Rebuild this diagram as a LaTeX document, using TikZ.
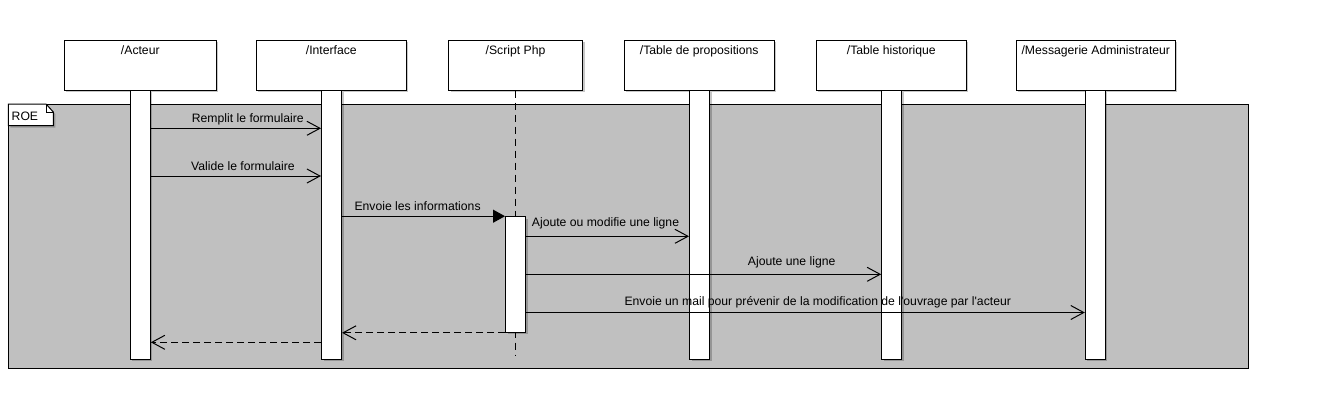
\documentclass[tikz,border=0pt]{standalone}
\usepackage{fontspec}
\setmainfont{Liberation Sans}[Ligatures=TeXOff]
\usetikzlibrary{arrows.meta,calc,shadows}
\definecolor{framegray}{HTML}{C0C0C0}
\tikzset{
  shd/.style={drop shadow={shadow xshift=2pt, shadow yshift=-2pt, opacity=0.22, fill=black}},
  hdr/.style={draw, fill=white, line width=1pt, inner sep=0pt, minimum height=50pt, shd},
  lbar/.style={draw, fill=white, line width=1pt, inner sep=0pt, minimum width=20pt, minimum height=269pt, shd},
  actbox/.style={draw, fill=white, line width=1pt, inner sep=0pt, minimum width=20pt, minimum height=115.6pt, shd},
  txt/.style={inner sep=0pt, font=\fontsize{12.2}{14}\selectfont},
  msg/.style={line width=1pt, -{Straight Barb[length=13pt,width=14pt,line width=1pt]}},
  callmsg/.style={line width=1pt, -{Triangle[length=12pt,width=13pt]}},
  retmsg/.style={line width=1pt, dash pattern=on 7pt off 4pt, -{Straight Barb[length=13pt,width=14pt,line width=1pt]}},
  lifedash/.style={line width=1pt, dash pattern=on 7pt off 5pt}
}
\begin{document}
\begin{tikzpicture}[x=1pt,y=-1pt]
\useasboundingbox (0,0) rectangle (1320,408);
% frame
\draw[line width=1pt, fill=framegray] (8.3,104) rectangle (1248.3,368.3);
\coordinate (tabA) at (8.3,104);
\filldraw[line width=1pt, fill=white, shd] (tabA) -- (46,104) -- (53.3,112) -- (53.3,125.7) -- (8.3,125.7) -- cycle;
\draw[line width=1pt] (46,104) -- (46,112) -- (53.3,112);
\node[txt, anchor=base west] (roe) at (11.5,120) {ROE};
% headers
\node[hdr, minimum width=152pt] (acteur) at (140.3,65) {};
\node[hdr, minimum width=150pt] (interface) at (331.3,65) {};
\node[hdr, minimum width=134pt] (script) at (515.5,65) {};
\node[hdr, minimum width=150pt] (prop) at (699.2,65) {};
\node[hdr, minimum width=150pt] (hist) at (891.3,65) {};
\node[hdr, minimum width=159pt] (mess) at (1095.8,65) {};
\node[txt, anchor=base] (acteurlab) at (140.3,54) {/Acteur};
\node[txt, anchor=base] (interfacelab) at (331.3,54) {/Interface};
\node[txt, anchor=base] (scriptlab) at (515.5,54) {/Script Php};
\node[txt, anchor=base] (proplab) at (699.2,54) {/Table de propositions};
\node[txt, anchor=base] (histlab) at (891.3,54) {/Table historique};
\node[txt, anchor=base] (messlab) at (1095.8,54) {/Messagerie Administrateur};
% lifelines
\node[lbar] (abar) at (140.3,224.5) {};
\node[lbar] (ibar) at (331.5,224.5) {};
\node[lbar] (pbar) at (699.5,224.5) {};
\node[lbar] (hbar) at (891.7,224.5) {};
\node[lbar] (mbar) at (1095.3,224.5) {};
\coordinate (sEnd) at (515.5,355);
\draw[lifedash] (script.south) -- (sEnd);
\node[actbox] (act) at (515.5,274.5) {};
% messages
\draw[msg] (abar.east |- 0,128.3) -- (ibar.west |- 0,128.3);
\draw[msg] (abar.east |- 0,176) -- (ibar.west |- 0,176);
\draw[callmsg] (ibar.east |- act.north) -- (act.north west);
\draw[msg] (act.east |- 0,236.3) -- (pbar.west |- 0,236.3);
\draw[msg] (act.east |- 0,274.3) -- (hbar.west |- 0,274.3);
\draw[msg] (act.east |- 0,312.5) -- (mbar.west |- 0,312.5);
\draw[retmsg] (act.south west) -- (ibar.east |- act.south);
\draw[retmsg] (ibar.west |- 0,342.3) -- (abar.east |- 0,342.3);
% labels
\node[txt, anchor=base west] (l1) at (191.7,122.7) {Remplit le formulaire};
\node[txt, anchor=base west] (l2) at (191,170.7) {Valide le formulaire};
\node[txt, anchor=base west] (l3) at (354.3,210.7) {Envoie les informations};
\node[txt, anchor=base west] (l4) at (531.7,226) {Ajoute ou modifie une ligne};
\node[txt, anchor=base west] (l5) at (747.7,265) {Ajoute une ligne};
\node[txt, anchor=base west] (l6) at (624.3,305) {Envoie un mail pour prévenir de la modification de l'ouvrage par l'acteur};
\end{tikzpicture}
\end{document}
